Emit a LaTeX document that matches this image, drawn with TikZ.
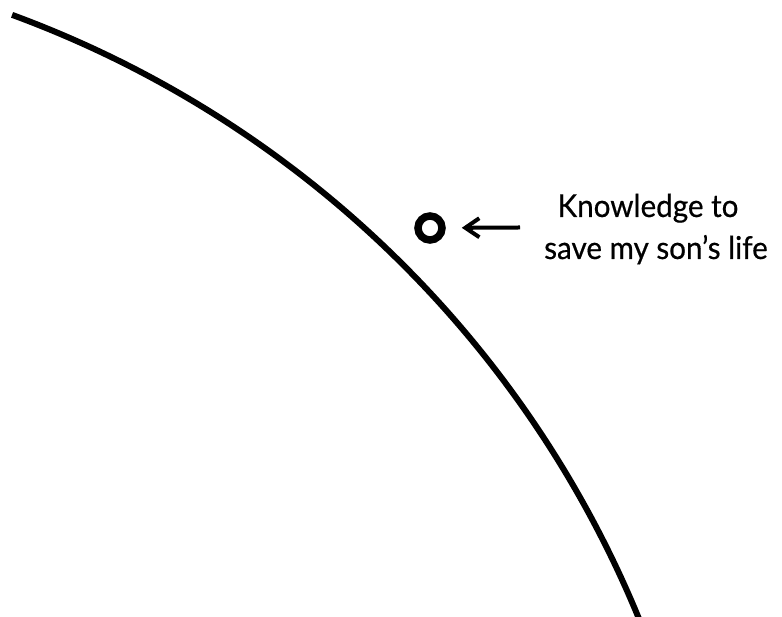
\documentclass[tikz,border=0pt]{standalone}
\usepackage{fontspec}
\setmainfont[FakeStretch=0.94,FakeBold=0.5]{Lato}
\usetikzlibrary{arrows.meta}
\begin{document}
\begin{tikzpicture}[x=1pt,y=1pt,
  curveline/.style={line width=6pt, line cap=butt},
  ring/.style={circle, draw, line width=7.5pt, minimum size=24pt, inner sep=0pt},
  pointer/.style={line width=4pt, -{Straight Barb[length=14pt,width=19pt,line width=4pt]}},
  label/.style={anchor=base, inner sep=0pt, font=\fontsize{31.5}{40}\selectfont}]
\useasboundingbox (0,0) rectangle (782,617);
\fill[white] (0,0) rectangle (782,617);
\begin{scope}
\clip (0,0) rectangle (782,617);
\coordinate (cc) at (-361,-412.4);
\draw[curveline] ([shift={(69.81:1081)}]cc) arc[start angle=69.81, end angle=20, radius=1081];
\end{scope}
\node[ring] (o) at (430,389) {};
\coordinate (a) at (520,389.5);
\draw[pointer, shorten >=16pt] (a) -- (o);
\node[label] (l1) at (648,400) {Knowledge to};
\node[label] (l2) at (656,358) {save my son’s life};
\end{tikzpicture}
\end{document}
